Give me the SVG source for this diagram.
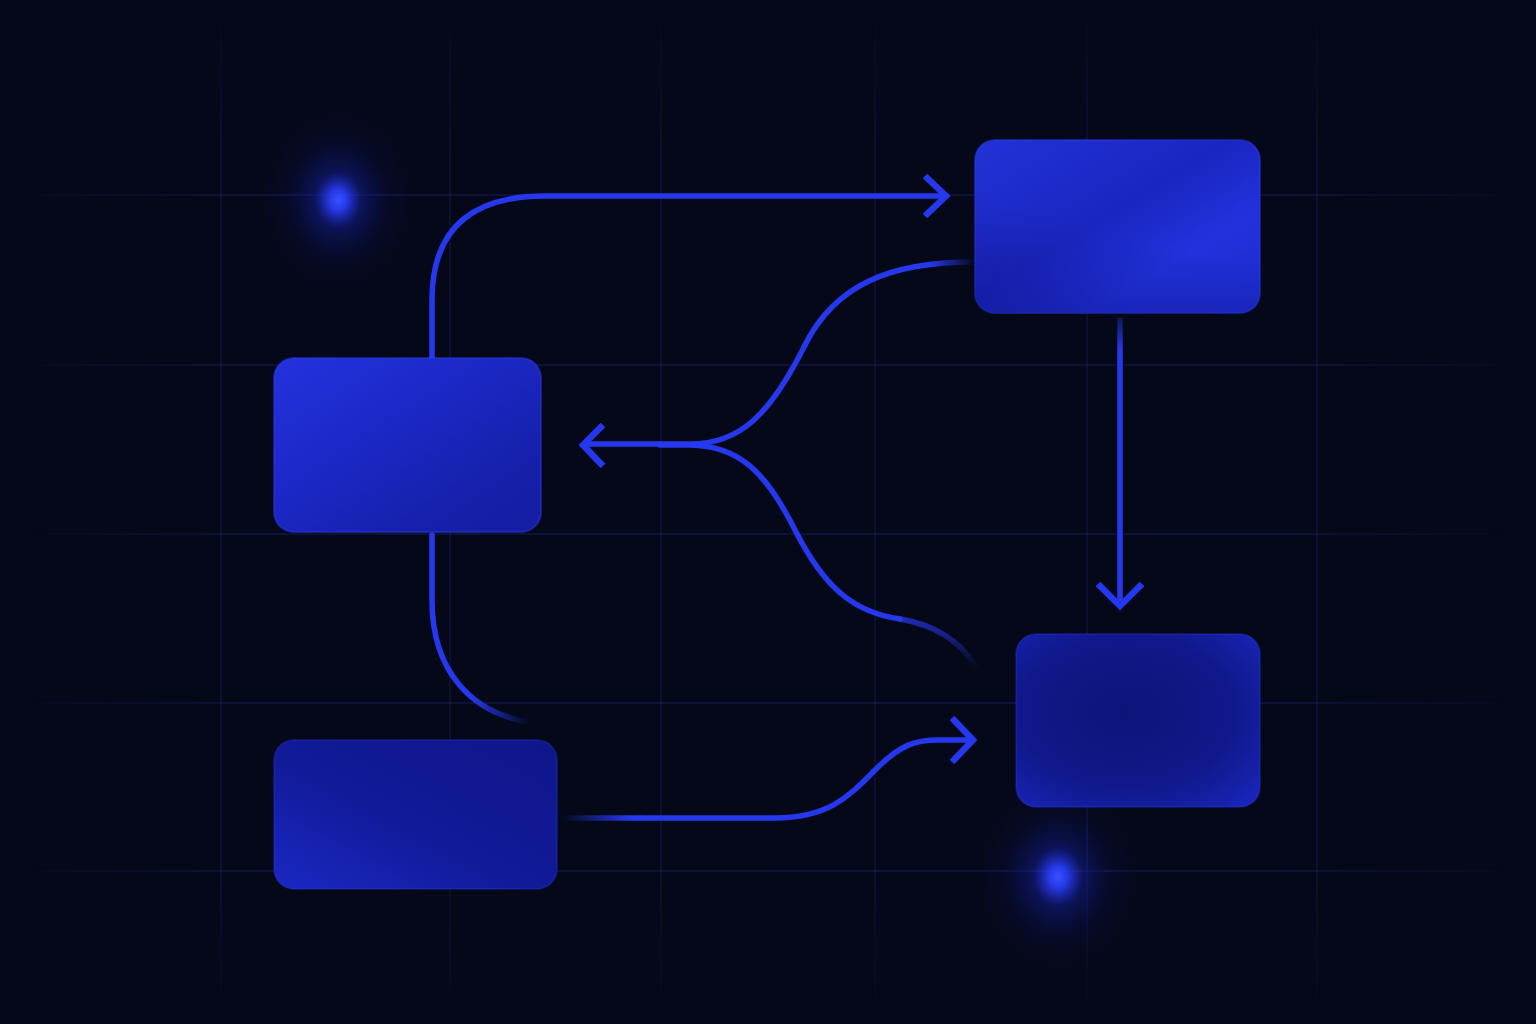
<svg xmlns="http://www.w3.org/2000/svg" width="1536" height="1024" viewBox="0 0 1536 1024">
<defs>
<style>
.grid line{stroke-width:1.5}
.gh{stroke:url(#gH)}
.gv{stroke:url(#gV)}
.conn{fill:none;stroke:#2638ee;stroke-width:5.5;stroke-linecap:round;stroke-linejoin:round}
.head{fill:none;stroke:#2638ee;stroke-width:6.5;stroke-linecap:butt;stroke-linejoin:miter}
.box{stroke:#2a3cf2;stroke-opacity:0.45;stroke-width:2}
</style>
<linearGradient id="gH" gradientUnits="userSpaceOnUse" x1="0" y1="0" x2="1536" y2="0">
<stop offset="0" stop-color="#1a2270" stop-opacity="0"/>
<stop offset="0.15" stop-color="#1a2270" stop-opacity="0.5"/>
<stop offset="0.85" stop-color="#1a2270" stop-opacity="0.5"/>
<stop offset="1" stop-color="#1a2270" stop-opacity="0"/>
</linearGradient>
<linearGradient id="gV" gradientUnits="userSpaceOnUse" x1="0" y1="0" x2="0" y2="1024">
<stop offset="0" stop-color="#1a2270" stop-opacity="0"/>
<stop offset="0.15" stop-color="#1a2270" stop-opacity="0.4"/>
<stop offset="0.85" stop-color="#1a2270" stop-opacity="0.4"/>
<stop offset="1" stop-color="#1a2270" stop-opacity="0"/>
</linearGradient>
<linearGradient id="fA" x1="0" y1="0" x2="1" y2="1">
<stop offset="0" stop-color="#2232d8"/>
<stop offset="0.45" stop-color="#1a26c0"/>
<stop offset="0.7" stop-color="#2232dc"/>
<stop offset="1" stop-color="#1c2ac8"/>
</linearGradient>
<linearGradient id="fA2" x1="0.2" y1="1" x2="0.6" y2="0">
<stop offset="0" stop-color="#0f1690" stop-opacity="0.55"/>
<stop offset="0.5" stop-color="#0f1690" stop-opacity="0"/>
</linearGradient>
<linearGradient id="fB" x1="0" y1="0" x2="1" y2="1">
<stop offset="0" stop-color="#2432de"/>
<stop offset="0.4" stop-color="#1c28c6"/>
<stop offset="0.8" stop-color="#1420a8"/>
<stop offset="1" stop-color="#141ea4"/>
</linearGradient>
<linearGradient id="fC" x1="0" y1="1" x2="1" y2="0">
<stop offset="0" stop-color="#1a28c4"/>
<stop offset="0.45" stop-color="#111a98"/>
<stop offset="1" stop-color="#0f168a"/>
</linearGradient>
<radialGradient id="fD" cx="0.45" cy="0.45" r="0.75">
<stop offset="0" stop-color="#0d1478"/>
<stop offset="0.6" stop-color="#10198c"/>
<stop offset="1" stop-color="#1926bc"/>
</radialGradient>
<radialGradient id="glow" cx="0.5" cy="0.5" r="0.5">
<stop offset="0" stop-color="#3a50ff" stop-opacity="1"/>
<stop offset="0.1" stop-color="#2a40ff" stop-opacity="0.9"/>
<stop offset="0.28" stop-color="#1a28d0" stop-opacity="0.35"/>
<stop offset="0.6" stop-color="#10188a" stop-opacity="0.12"/>
<stop offset="1" stop-color="#0a0f50" stop-opacity="0"/>
</radialGradient>
<linearGradient id="fadeL" gradientUnits="userSpaceOnUse" x1="975" y1="0" x2="930" y2="0">
<stop offset="0" stop-color="#2638ee" stop-opacity="0"/>
<stop offset="1" stop-color="#2638ee" stop-opacity="1"/>
</linearGradient>
<linearGradient id="fadeD" gradientUnits="userSpaceOnUse" x1="0" y1="670" x2="0" y2="610">
<stop offset="0" stop-color="#2638ee" stop-opacity="0"/>
<stop offset="1" stop-color="#2638ee" stop-opacity="0.85"/>
</linearGradient>
<linearGradient id="fadeC" gradientUnits="userSpaceOnUse" x1="530" y1="0" x2="470" y2="0">
<stop offset="0" stop-color="#2638ee" stop-opacity="0"/>
<stop offset="1" stop-color="#2638ee" stop-opacity="1"/>
</linearGradient>
<linearGradient id="fadeE" gradientUnits="userSpaceOnUse" x1="562" y1="0" x2="630" y2="0">
<stop offset="0" stop-color="#2638ee" stop-opacity="0"/>
<stop offset="1" stop-color="#2638ee" stop-opacity="1"/>
</linearGradient>
<linearGradient id="fadeV" gradientUnits="userSpaceOnUse" x1="0" y1="318" x2="0" y2="350">
<stop offset="0" stop-color="#2638ee" stop-opacity="0.3"/>
<stop offset="1" stop-color="#2638ee" stop-opacity="1"/>
</linearGradient>
</defs>

<rect width="1536" height="1024" fill="#050818"/>

<g class="grid">
<line class="gh" x1="0" y1="195" x2="1536" y2="195"/>
<line class="gh" x1="0" y1="365" x2="1536" y2="365"/>
<line class="gh" x1="0" y1="534" x2="1536" y2="534"/>
<line class="gh" x1="0" y1="703" x2="1536" y2="703"/>
<line class="gh" x1="0" y1="871" x2="1536" y2="871"/>
<line class="gv" x1="221" y1="0" x2="221" y2="1024"/>
<line class="gv" x1="450" y1="0" x2="450" y2="1024"/>
<line class="gv" x1="661" y1="0" x2="661" y2="1024"/>
<line class="gv" x1="875" y1="0" x2="875" y2="1024"/>
<line class="gv" x1="1087" y1="0" x2="1087" y2="1024"/>
<line class="gv" x1="1317" y1="0" x2="1317" y2="1024"/>
</g>

<g id="glows">
<ellipse cx="338" cy="200" rx="85" ry="100" fill="url(#glow)"/>
<ellipse cx="1058" cy="877" rx="90" ry="105" fill="url(#glow)"/>
</g>

<g id="connectors">
<path class="conn" d="M432,358 V300 Q432,196 545,196 H944"/>
<path class="head" d="M925,176 L946,196 L925,216"/>
<path class="conn" style="stroke:url(#fadeL)" d="M972,262 C890,262 835,285 805,345"/>
<path class="conn" d="M805,345 C770,415 740,444 690,444 H584"/>
<path class="head" d="M603,425 L583,445 L603,466"/>
<path class="conn" d="M660,445 H690 C738,446 765,470 795,530 C822,583 850,612 900,619"/>
<path class="conn" style="stroke:url(#fadeD)" d="M900,619 C935,625 958,640 975,665"/>
<path class="conn" style="stroke:url(#fadeC)" d="M432,535 V600 C432,670 470,712 528,722"/>
<path class="conn" style="stroke:url(#fadeE)" d="M562,818 H640"/>
<path class="conn" d="M640,818 H775 C830,818 850,795 875,770 C900,745 915,740 938,740 H970"/>
<path class="head" d="M952,718 L973,740 L952,762"/>
<path class="conn" style="stroke:url(#fadeV)" d="M1120,320 V603"/>
<path class="head" d="M1098,584 L1120,606 L1142,584"/>
</g>

<g id="nodeA">
<rect class="box" x="975" y="140" width="285" height="173" rx="20" fill="url(#fA)"/>
<rect x="975" y="140" width="285" height="173" rx="20" fill="url(#fA2)"/>
</g>
<g id="nodeB">
<rect class="box" x="274" y="358" width="267" height="174" rx="20" fill="url(#fB)"/>
</g>
<g id="nodeC">
<rect class="box" x="274" y="740" width="283" height="149" rx="20" fill="url(#fC)" style="stroke-opacity:0.25"/>
</g>
<g id="nodeD">
<rect class="box" x="1016" y="634" width="244" height="173" rx="20" fill="url(#fD)" style="stroke-opacity:0.25"/>
</g>
</svg>
